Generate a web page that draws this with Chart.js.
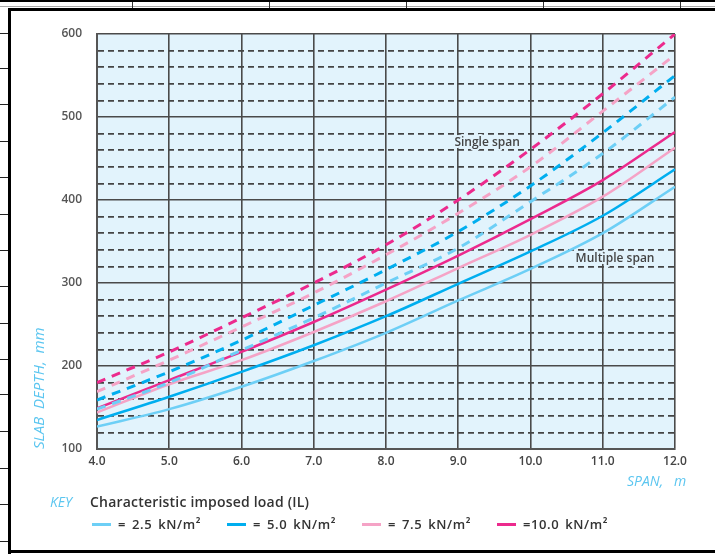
<!DOCTYPE html>
<html><head><meta charset="utf-8">
<script src="https://cdn.jsdelivr.net/npm/chart.js@4"></script>
<style>
html,body{margin:0;padding:0;background:#fff;}
#wrap{position:relative;width:715px;height:554px;overflow:hidden;font-family:"Open Sans",sans-serif;}
#c{position:absolute;left:0;top:0;}
.bl{position:absolute;background:#000;}
.hl{position:absolute;left:0;width:8px;height:1px;background:#222;}
.vt{position:absolute;top:2px;width:1px;height:6px;background:#333;}
#spanTitle{position:absolute;left:627px;top:473px;font-style:italic;color:#5cc6f0;font-size:14px;white-space:pre;line-height:16px;}
#key{position:absolute;left:50px;top:494px;font-style:italic;color:#5cc6f0;font-size:14px;line-height:16px;}
#hdr{position:absolute;left:90px;top:494px;color:#333;font-size:14px;font-weight:600;line-height:16px;letter-spacing:0.2px;}
#legend{position:absolute;left:92px;top:516px;display:flex;}
.item{display:flex;align-items:center;width:135px;font-size:13px;color:#333;font-weight:600;letter-spacing:0.6px;word-spacing:2px;line-height:16px;}
.sw{width:19px;height:3px;margin-right:7px;flex:none;}
</style></head><body>
<div id="wrap">
  <div class="bl" style="left:0;top:0;width:715px;height:2px;"></div>
  <div style="position:absolute;left:0;top:6px;width:715px;height:1px;background:#aaa;"></div>
  <div class="vt" style="left:132px"></div><div class="vt" style="left:269px"></div>
  <div class="vt" style="left:406px"></div><div class="vt" style="left:543px"></div>
  <div class="vt" style="left:680px"></div>
  <div class="bl" style="left:8px;top:8px;width:707px;height:3px;"></div>
  <div class="bl" style="left:8px;top:8px;width:3px;height:546px;"></div>
  <div class="bl" style="left:8px;top:550px;width:707px;height:3px;"></div>
  <div id="hls"></div>
  <canvas id="c" width="715" height="554"></canvas>
  <div id="spanTitle">SPAN,   m</div>
  <div id="key">KEY</div>
  <div id="hdr">Characteristic imposed load (IL)</div>
  <div id="legend"></div>
</div>
<script>
// ---- data ----
const spans = [4, 5, 6, 7, 8, 9, 10, 11, 12];
const loadLabels = ['= 2.5 kN/m\u00b2', '= 5.0 kN/m\u00b2', '= 7.5 kN/m\u00b2', '=10.0 kN/m\u00b2'];
// multiple span (solid)
const multi25  = [127, 148, 175, 206, 240, 279, 317, 360, 416];
const multi50  = [135, 163, 193, 225, 260, 299, 338, 381, 437];
const multi75  = [144, 178, 207, 241, 278, 318, 358, 404, 463];
const multi100 = [149, 183, 217, 253, 292, 333, 377, 424, 482];
// single span (dashed)
const single25  = [148, 180, 219, 258, 300, 342, 398, 456, 524];
const single50  = [159, 193, 231, 273, 316, 362, 417, 481, 550];
const single75  = [169, 207, 247, 288, 334, 384, 440, 507, 575];
const single100 = [180, 217, 258, 300, 346, 400, 461, 528, 600];
const yTicks = [100, 200, 300, 400, 500, 600];
const notes = [{text: 'Single span', x: 9.4, y: 469}, {text: 'Multiple span', x: 11.17, y: 329}];

const colors = ['#6dcff6', '#00aeef', '#f5a3c6', '#ec2a8d'];
const multiSets = [multi25, multi50, multi75, multi100];
const singleSets = [single25, single50, single75, single100];

// side lines of the scanned table
const hls = document.getElementById('hls');
[33, 68, 104, 141, 177, 214, 250, 286, 323, 359, 394, 431, 468, 504, 541].forEach(y => {
  const d = document.createElement('div'); d.className = 'hl'; d.style.top = y + 'px'; hls.appendChild(d);
});

// legend
const lg = document.getElementById('legend');
loadLabels.forEach((t, i) => {
  const it = document.createElement('div'); it.className = 'item';
  const sw = document.createElement('span'); sw.className = 'sw'; sw.style.background = colors[i];
  const tx = document.createElement('span'); tx.textContent = t;
  it.appendChild(sw); it.appendChild(tx); lg.appendChild(it);
});

const toPts = d => d.map((v, i) => ({x: spans[i], y: v}));
const datasets = [];
singleSets.forEach((d, i) => datasets.push({
  label: 'Single ' + loadLabels[i], data: toPts(d), borderColor: colors[i], borderWidth: 3,
  borderDash: [9, 7], pointRadius: 0, cubicInterpolationMode: 'monotone', fill: false
}));
multiSets.forEach((d, i) => datasets.push({
  label: 'Multiple ' + loadLabels[i], data: toPts(d), borderColor: colors[i], borderWidth: 2.5,
  pointRadius: 0, cubicInterpolationMode: 'monotone', fill: false
}));

const bgPlugin = {
  id: 'bg',
  beforeDraw(chart) {
    const a = chart.chartArea, c = chart.ctx;
    c.save(); c.fillStyle = '#e2f3fc'; c.fillRect(a.left, a.top, a.right - a.left, a.bottom - a.top); c.restore();
  }
};
const notePlugin = {
  id: 'notes',
  afterDatasetsDraw(chart) {
    const c = chart.ctx, xs = chart.scales.x, ys = chart.scales.y;
    c.save();
    c.font = '600 12px "Open Sans", sans-serif';
    c.textAlign = 'center'; c.textBaseline = 'middle';
    notes.forEach(n => {
      const px = xs.getPixelForValue(n.x), py = ys.getPixelForValue(n.y);
      c.lineWidth = 4; c.strokeStyle = '#e2f3fc'; c.lineJoin = 'round';
      c.strokeText(n.text, px, py);
      c.fillStyle = '#444'; c.fillText(n.text, px, py);
    });
    c.restore();
  }
};

new Chart(document.getElementById('c'), {
  type: 'line',
  data: { datasets },
  plugins: [bgPlugin, notePlugin],
  options: {
    responsive: false, animation: false, devicePixelRatio: 1,
    layout: { padding: { left: 12, top: 34, right: 40, bottom: 75 } },
    plugins: { legend: { display: false }, tooltip: { enabled: false } },
    scales: {
      x: {
        type: 'linear', min: 4, max: 12,
        afterFit(s) { s.height = 30; },
        ticks: { stepSize: 1, autoSkip: false, padding: 5, color: '#444',
          font: { family: '"Open Sans", sans-serif', size: 12, weight: '600' },
          callback: v => Number(v).toFixed(1) },
        grid: { color: '#4a4a4a', lineWidth: 1.6, drawTicks: false },
        border: { color: '#555', width: 2 }
      },
      y: {
        type: 'linear', min: 100, max: 600,
        afterFit(s) { s.width = 85; },
        ticks: { stepSize: 20, autoSkip: false, padding: 15, color: '#555',
          font: { family: '"Open Sans", sans-serif', size: 12, weight: '600' },
          callback: v => yTicks.includes(v) ? String(v) : '' },
        grid: { drawTicks: false,
          color: ctx => (ctx.tick && ctx.tick.value % 100 !== 0) ? '#444' : '#4a4a4a',
          lineWidth: ctx => (ctx.tick && ctx.tick.value % 100 !== 0) ? 1.8 : 1.6 },
        border: { color: '#555', width: 2,
          dash: ctx => (ctx.tick && ctx.tick.value % 100 !== 0) ? [6, 4] : [] },
        title: { display: true, text: 'SLAB  DEPTH,  mm', align: 'start', color: '#5cc6f0',
          padding: { top: 19, bottom: 0 },
          font: { family: '"Open Sans", sans-serif', size: 15, style: 'italic' } }
      }
    }
  }
});
</script>
</body></html>
